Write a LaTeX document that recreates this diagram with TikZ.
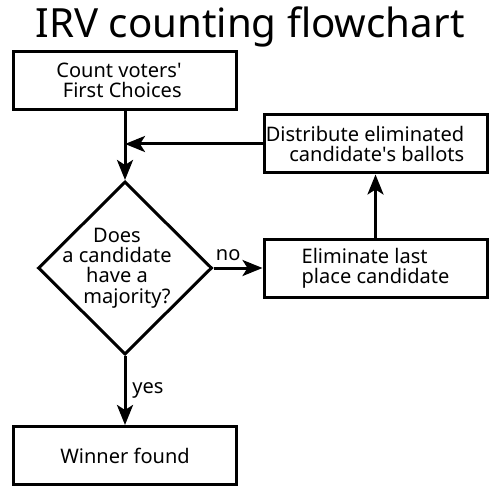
\documentclass[tikz,border=0pt]{standalone}
\usepackage{fontspec}
\setmainfont{Noto Sans}
\usetikzlibrary{calc}
\usetikzlibrary{positioning}
\usetikzlibrary{shapes.geometric}
\usetikzlibrary{arrows.meta}

\begin{document}
\begin{tikzpicture}

                \def\d{1.38cm}
                \def\h{0.98cm}
                \def\v{1.26cm}

                % Looks of the boxes, the question and the arrows
                \tikzset{
                    stepbox/.style={draw, line width=0.06cm, minimum width=4.46cm,
                        minimum height=1.16cm, font=\fontsize{11.4}{11.5}\selectfont},
                    question/.style={draw, diamond, line width=0.06cm, aspect=1,
                        minimum width=3.48cm, minimum height=3.46cm, inner sep=0pt},
                    flow/.style={line width=0.06cm,
                        -{Stealth[length=0.4cm, width=0.32cm, inset=0.1cm]}}
                }

                \useasboundingbox (0, 0) rectangle (10, -10);

                % Scope used to place the steps from the first box
                \begin{scope}

                    \node (title) [anchor=base] at (5, -0.76)
                    {\fontsize{22.9}{25}\selectfont IRV counting flowchart};
                    \node (count) [stepbox, align=right] at (2.5, -1.61)
                    {Count voters\textquotesingle\hspace*{0.24cm}\\First Choices\hspace*{0.24cm}};
                    \node (majority) [question, below=\d of count] {};
                    \node (ask) [align=center, xshift=-0.16cm,
                        font=\fontsize{11.4}{11.5}\selectfont] at (majority)
                    {Does\\a candidate\\have a\\\hspace{0.4cm}majority?};
                    \node (winner) [stepbox, below=\d of majority]
                    {Winner found};
                    \node (eliminate) [stepbox, align=left, right=\h of majority]
                    {Eliminate last\\place candidate};
                    \node (distribute) [stepbox, align=right, inner xsep=0pt,
                        above=\v of eliminate]
                    {Distribute eliminated\hspace*{0.42cm}\\candidate\textquotesingle s ballots\hspace*{0.42cm}};
                    \coordinate (merge) at (count |- distribute.west);
                \end{scope}

                \begin{scope}[flow]
                    \draw (count) -- (majority);
                    \draw (distribute) -- (merge);
                    \draw (majority) -- node[above, pos=0.3, font=\fontsize{11.4}{11.5}\selectfont] (no) {no} (eliminate);
                    \draw (eliminate) -- (distribute);
                    \draw (majority) -- node[right, font=\fontsize{11.4}{11.5}\selectfont] (yes) {yes} (winner);
                \end{scope}

                \end{tikzpicture}
\end{document}
